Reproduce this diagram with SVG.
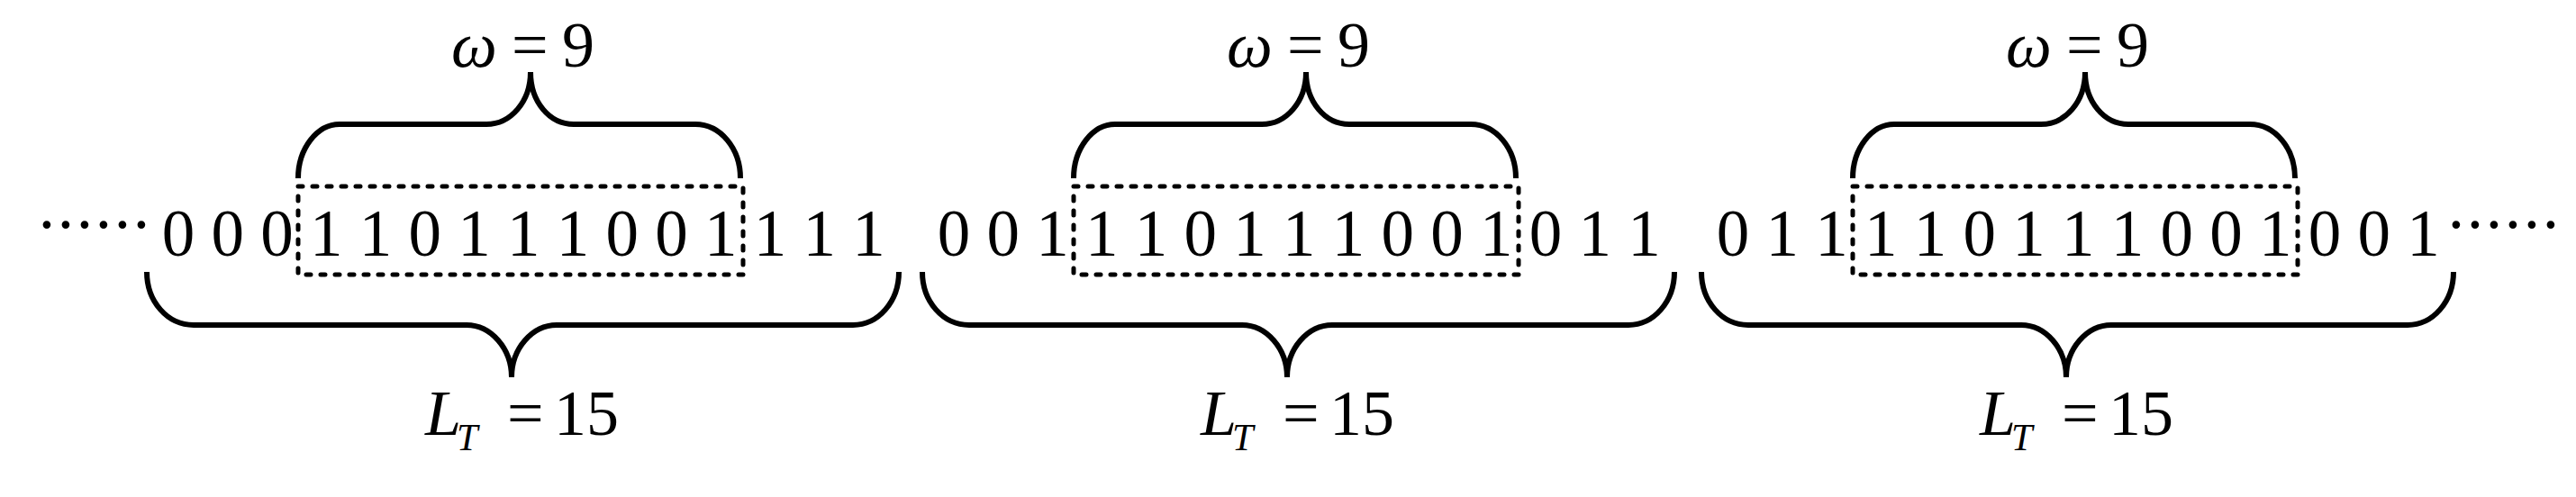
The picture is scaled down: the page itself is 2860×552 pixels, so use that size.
<svg xmlns="http://www.w3.org/2000/svg" width="2860" height="552" viewBox="0 0 2860 552">
<style>
.bg{fill:#fff}
.seq{font-family:"Liberation Serif","Times New Roman",serif;font-size:73px;fill:#000}
.dots{font-family:"Liberation Serif","Times New Roman",serif;font-size:73px;fill:#000;text-anchor:middle}
.lbl{font-family:"Liberation Serif","Times New Roman",serif;font-size:72px;fill:#000}
.it{font-style:italic}
.sub{font-family:"Liberation Serif","Times New Roman",serif;font-size:42px;font-style:italic;fill:#000}
.brace{fill:none;stroke:#000;stroke-width:6}
.box{fill:none;stroke:#000;stroke-width:5;stroke-dasharray:5 11;stroke-linecap:round}
</style>
<defs>
<path id="topBrace" d="M331,198 C331,165 352,138 377,138 L540,138 C567,138 589,113 589,80 C589,113 610,138 637,138 L772,138 C800,138 822,165 822,198"/>
<path id="botBrace" d="M163,302 C163,335 186,361 215,361 L518,361 C545,361 568,387 568,419 C568,387 591,361 618,361 L947,361 C975,361 998,335 998,302"/>
</defs>
<rect class="bg" x="0" y="0" width="2860" height="552"/>
<text id="dotsLeft" class="dots" x="52 73 94 115 136 157" y="274">······</text>
<text id="dotsRight" class="dots" x="2727 2748 2769 2790 2811 2832" y="274">······</text>
<g id="block1">
<text class="seq" x="179.7" y="284">0 0 0 1 1 0 1 1 1 0 0 1 1 1 1</text>
<rect class="box" x="331" y="207" width="494" height="98"/>
<text class="lbl" y="74"><tspan class="it" x="501">ω</tspan><tspan x="568">=</tspan><tspan x="624">9</tspan></text>
<text class="lbl" y="483"><tspan class="it" x="472">L</tspan><tspan class="sub" x="507" y="500">T</tspan><tspan x="563" y="483">=</tspan><tspan x="615" y="483">15</tspan></text>
</g>
<g id="block2" transform="translate(861,0)">
<text class="seq" x="179.7" y="284">0 0 1 1 1 0 1 1 1 0 0 1 0 1 1</text>
<rect class="box" x="331" y="207" width="494" height="98"/>
<text class="lbl" y="74"><tspan class="it" x="501">ω</tspan><tspan x="568">=</tspan><tspan x="624">9</tspan></text>
<text class="lbl" y="483"><tspan class="it" x="472">L</tspan><tspan class="sub" x="507" y="500">T</tspan><tspan x="563" y="483">=</tspan><tspan x="615" y="483">15</tspan></text>
</g>
<g id="block3" transform="translate(1726,0)">
<text class="seq" x="179.7" y="284">0 1 1 1 1 0 1 1 1 0 0 1 0 0 1</text>
<rect class="box" x="331" y="207" width="494" height="98"/>
<text class="lbl" y="74"><tspan class="it" x="501">ω</tspan><tspan x="568">=</tspan><tspan x="624">9</tspan></text>
<text class="lbl" y="483"><tspan class="it" x="472">L</tspan><tspan class="sub" x="507" y="500">T</tspan><tspan x="563" y="483">=</tspan><tspan x="615" y="483">15</tspan></text>
</g>
<g id="connectors">
<use href="#topBrace" class="brace"/>
<use href="#botBrace" class="brace"/>
<use href="#topBrace" class="brace" transform="translate(861,0)"/>
<use href="#botBrace" class="brace" transform="translate(861,0)"/>
<use href="#topBrace" class="brace" transform="translate(1726,0)"/>
<use href="#botBrace" class="brace" transform="translate(1726,0)"/>
</g>
</svg>
